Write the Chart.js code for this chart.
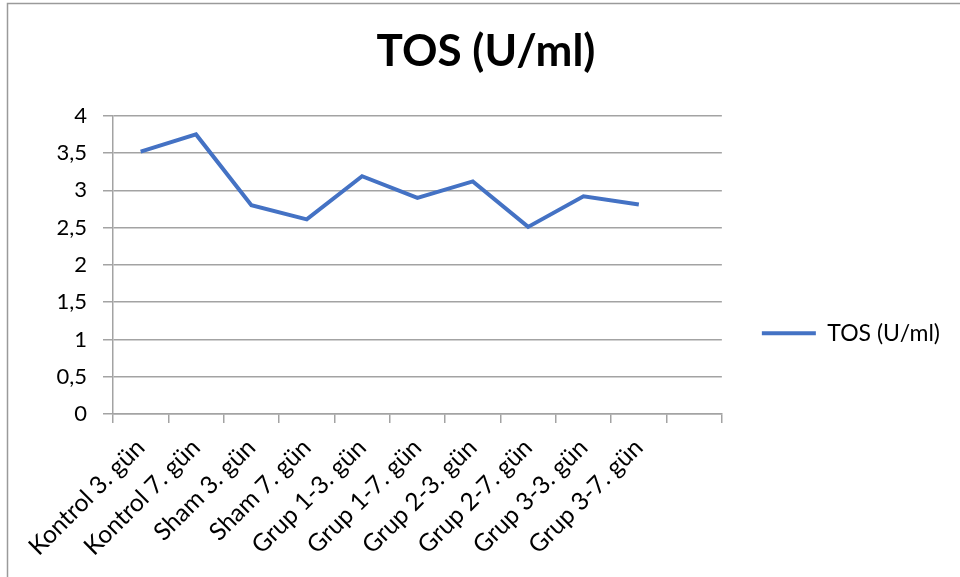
<!DOCTYPE html>
<html>
<head>
<meta charset="utf-8">
<script src="https://cdn.jsdelivr.net/npm/chart.js@4"></script>
<style>
  html, body { margin: 0; padding: 0; background: #fff; }
  #wrap { width: 960px; height: 577px; position: relative; }
</style>
</head>
<body>
<div id="wrap"><canvas id="c" width="960" height="577"></canvas></div>
<script>
// Categories: groups and sampling day; the trailing blank slot keeps the axis open on the right
const categories = [
  'Kontrol 3. gün', 'Kontrol 7. gün', 'Sham 3. gün', 'Sham 7. gün',
  'Grup 1-3. gün', 'Grup 1-7. gün', 'Grup 2-3. gün', 'Grup 2-7. gün',
  'Grup 3-3. gün', 'Grup 3-7. gün', ''
];
const seriesName = 'TOS (U/ml)';
const tosValues = [3.52, 3.75, 2.80, 2.61, 3.19, 2.90, 3.12, 2.51, 2.92, 2.81];
const yTicks = [0, 0.5, 1, 1.5, 2, 2.5, 3, 3.5, 4];

const FONT = 'Lato, "Open Sans", sans-serif';
const GRID = '#a3a3a3';

// Thin frame along the top and left edges of the canvas
const framePlugin = {
  id: 'frame',
  afterDraw(chart) {
    const ctx = chart.ctx;
    ctx.save();
    ctx.strokeStyle = '#9a9a9a';
    ctx.lineWidth = 1.5;
    ctx.beginPath();
    ctx.moveTo(7.5, 577);
    ctx.lineTo(7.5, 3.5);
    ctx.lineTo(960, 3.5);
    ctx.stroke();
    ctx.restore();
  }
};

new Chart(document.getElementById('c'), {
  type: 'line',
  data: {
    labels: categories,
    datasets: [{
      label: seriesName,
      data: tosValues,
      borderColor: '#4472C4',
      backgroundColor: '#4472C4',
      borderWidth: 4,
      pointRadius: 0,
      pointHoverRadius: 0,
      tension: 0,
      fill: false
    }]
  },
  options: {
    responsive: false,
    animation: false,
    layout: { padding: { left: 22, right: 10, top: 0, bottom: 0 } },
    plugins: {
      title: {
        display: true,
        text: seriesName,
        color: '#000',
        font: { family: FONT, size: 44, weight: 'bold', lineHeight: 1.2 },
        padding: { top: 25, bottom: 38 }
      },
      legend: {
        position: 'right',
        title: { display: true, text: '', padding: { top: 75, bottom: 0 }, font: { size: 12 } },
        labels: {
          usePointStyle: true,
          pointStyle: 'line',
          pointStyleWidth: 54,
          color: '#000',
          font: { family: FONT, size: 23 },
          padding: 40
        }
      },
      tooltip: { enabled: false }
    },
    scales: {
      x: {
        type: 'category',
        offset: true,
        afterFit(scale) { scale.height = 163; },
        grid: {
          display: true,
          offset: true,
          drawOnChartArea: false,
          drawTicks: true,
          tickLength: 9,
          color: GRID,
          lineWidth: 1.5
        },
        border: { display: true, color: GRID, width: 1.5 },
        ticks: {
          autoSkip: false,
          minRotation: 45,
          maxRotation: 45,
          padding: 10,
          color: '#000',
          font: { family: FONT, size: 24.5 }
        }
      },
      y: {
        min: 0,
        max: 4,
        afterFit(scale) { scale.width = 91; },
        afterBuildTicks(scale) { scale.ticks = yTicks.map(v => ({ value: v })); },
        grid: {
          color: GRID,
          lineWidth: 1.5,
          tickLength: 10
        },
        border: { display: true, color: GRID, width: 1.5 },
        ticks: {
          padding: 16,
          color: '#000',
          font: { family: FONT, size: 22 },
          callback: v => String(v).replace('.', ',')
        }
      }
    }
  },
  plugins: [framePlugin]
});
</script>
</body>
</html>
